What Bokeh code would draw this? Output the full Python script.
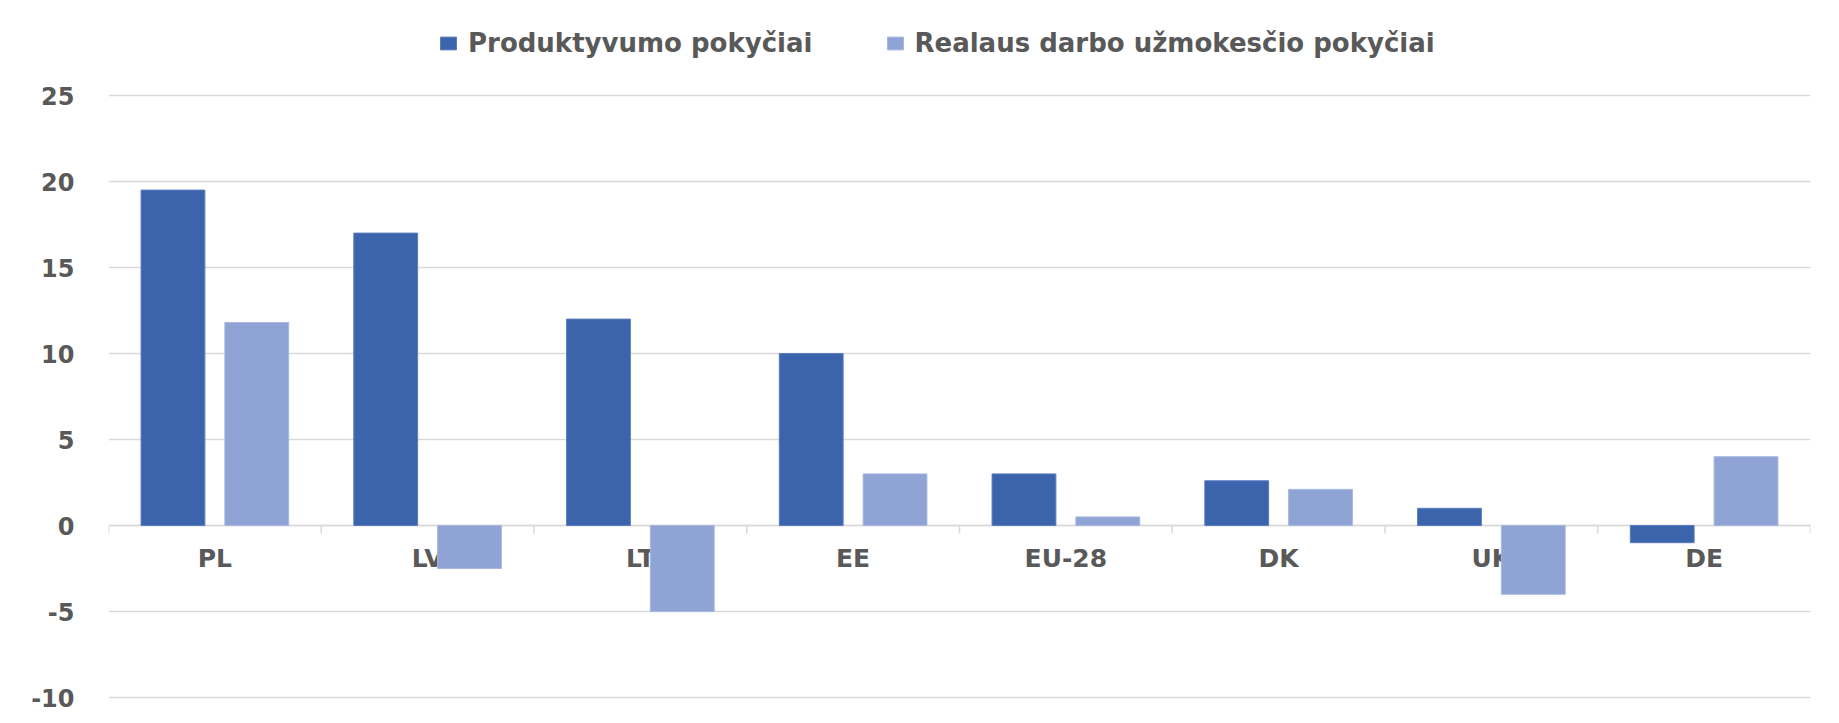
from bokeh.plotting import figure
from bokeh.models import (FactorRange, Range1d, Legend, LegendItem,
                          FixedTicker, ColumnDataSource)
from bokeh.transform import dodge
from bokeh.embed import file_html
from bokeh.resources import INLINE

# ---- data ----
categories = ["PL", "LV", "LT", "EE", "EU-28", "DK", "UK", "DE"]
productivity = [19.5, 17.0, 12.0, 10.0, 3.0, 2.6, 1.0, -1.0]
real_wage = [11.8, -2.5, -5.0, 3.0, 0.5, 2.1, -4.0, 4.0]
series_names = ["Produktyvumo pokyčiai", "Realaus darbo užmokesčio pokyčiai"]
y_ticks = [-10, -5, 0, 5, 10, 15, 20, 25]

# ---- style ----
DARK = "#3B64AD"
LIGHT = "#8FA4D4"
TEXT = "#595959"
GRID = "#D9D9D9"
FONT = "DejaVu Sans"
FS = "24px"
XFS = "25px"
LEG_FS = "26px"

# layout (pixels): frame spans the full height; legend sits inside its top
W, H = 1828, 715
LEFT, RIGHT, TOP, BOTTOM = 108, 18, 0, 8
PX_PER_UNIT = 17.2
y_top_gridline_px = 95       # 25 gridline
y_end = y_ticks[-1] + y_top_gridline_px / PX_PER_UNIT
y_start = y_ticks[0] - (H - BOTTOM - (y_top_gridline_px + (y_ticks[-1] - y_ticks[0]) * PX_PER_UNIT)) / PX_PER_UNIT

src = ColumnDataSource(dict(cat=categories, prod=productivity, wage=real_wage))

p = figure(width=W, height=H,
           x_range=FactorRange(*categories, range_padding=0),
           y_range=Range1d(y_start, y_end),
           output_backend="svg", toolbar_location=None,
           min_border_left=LEFT, min_border_right=RIGHT,
           min_border_top=TOP, min_border_bottom=BOTTOM)
p.outline_line_color = None
p.background_fill_color = "white"
p.border_fill_color = "white"

# boundary tick marks under the zero line
bx = [(c, -0.5) for c in categories] + [(categories[-1], 0.5)]
tick_len = 8 / PX_PER_UNIT
p.segment(x0=bx, x1=bx, y0=[0] * len(bx), y1=[-tick_len] * len(bx),
          line_color=GRID, line_width=1.5, level="underlay")

r1 = p.vbar(x=dodge("cat", -0.197, range=p.x_range), top="prod", bottom=0,
            width=0.30, source=src, fill_color=DARK, line_color="#5A7DC0",
            line_width=1)
r2 = p.vbar(x=dodge("cat", 0.197, range=p.x_range), top="wage", bottom=0,
            width=0.30, source=src, fill_color=LIGHT, line_color="#A7B8E0",
            line_width=1)

# x axis at zero
xa = p.xaxis[0]
xa.fixed_location = 0
xa.level = "underlay"
xa.axis_line_color = GRID
xa.axis_line_width = 1.5
xa.major_tick_line_color = None
xa.major_tick_out = 0
xa.major_label_standoff = 18
xa.major_label_text_font = FONT
xa.major_label_text_font_style = "bold"
xa.major_label_text_font_size = XFS
xa.major_label_text_color = TEXT

ya = p.yaxis[0]
ya.ticker = FixedTicker(ticks=y_ticks)
ya.major_label_overrides = {t: str(t) for t in y_ticks}
ya.axis_line_color = None
ya.major_tick_line_color = None
ya.minor_tick_line_color = None
ya.major_tick_out = 0
ya.major_label_standoff = 34
ya.major_label_text_font = FONT
ya.major_label_text_font_style = "bold"
ya.major_label_text_font_size = FS
ya.major_label_text_color = TEXT

p.xgrid.grid_line_color = None
p.ygrid.ticker = FixedTicker(ticks=y_ticks)
p.ygrid.grid_line_color = GRID
p.ygrid.grid_line_width = 1.5

legend = Legend(items=[LegendItem(label=series_names[0], renderers=[r1]),
                       LegendItem(label=series_names[1], renderers=[r2])],
                orientation="horizontal", location=(330, H - BOTTOM - 58),
                padding=0, margin=0, spacing=72, label_standoff=10,
                glyph_width=20, glyph_height=16,
                border_line_color=None, background_fill_alpha=0,
                label_text_font=FONT, label_text_font_style="bold",
                label_text_font_size=LEG_FS, label_text_color=TEXT)
p.add_layout(legend, "center")

open("out.html", "w").write(file_html(p, INLINE))
